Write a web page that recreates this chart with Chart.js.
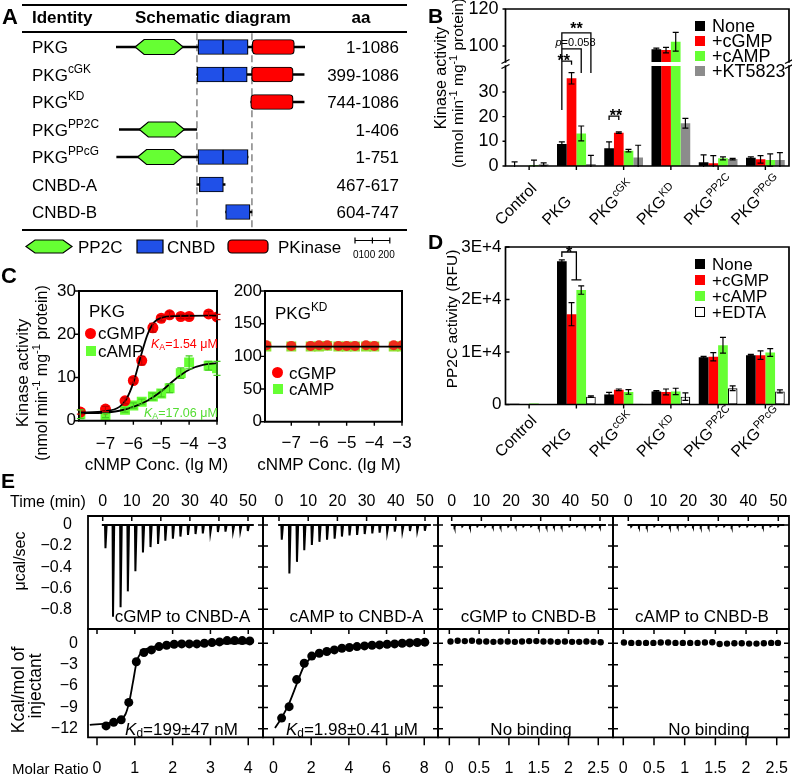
<!DOCTYPE html>
<html>
<head>
<meta charset="utf-8">
<script src="https://cdn.jsdelivr.net/npm/chart.js@4.4.1/dist/chart.umd.min.js"></script>
<style>
  body { margin: 0; background: #fff; }
  #fig { position: relative; width: 792px; height: 774px; overflow: hidden;
         font-family: "Liberation Sans", Arial, Helvetica, sans-serif; color: #000; }
  #fig canvas { position: absolute; }
  .t { position: absolute; white-space: nowrap; line-height: 1; z-index: 2; }
  .t sup { font-size: 0.7em; vertical-align: 0.6em; line-height: 0; }
  .t sub { font-size: 0.7em; vertical-align: -0.25em; line-height: 0; }
  .rule { position: absolute; height: 2px; background: #000; }
  .sw { position: absolute; box-sizing: border-box; z-index: 2; }
</style>
</head>
<body>
<div id="fig"></div>
<script>
const FONT = '"Liberation Sans", Arial, sans-serif';
const RED = '#ff0000', GREEN = '#66ff33', GRAY = '#8c8c8c', BLUE = '#2050e8';

// ---------- panel A: domain extents (amino acids)
const rowBase = ['PKG', 'PKG', 'PKG', 'PKG', 'PKG', 'CNBD-A', 'CNBD-B'];
const rowSup = ['', 'cGK', 'KD', 'PP2C', 'PPcG', '', ''];
const rowAa = ['1-1086', '399-1086', '744-1086', '1-406', '1-751', '467-617', '604-747'];
const backbone = [[0, 1086], [463, 1081], [774, 1081], [19, 464], [4, 759], [464, 627], [630, 781]];
const pp2cDom = [[110, 386], null, null, [134, 393], [124, 383], null, null];
const cnbdA = [[471, 615], [467, 616], null, null, [471, 615], [479, 617], null];
const cnbdB = [[615, 759], [616, 754], null, null, [615, 759], null, [630, 770]];
const kinaseDom = [[783, 1025], [779, 1018], [774, 1018], null, null, null, null];
const dashAa = [465, 781];

// ---------- panel B: kinase activity
const groups = ['Control', 'PKG', 'PKG', 'PKG', 'PKG', 'PKG'];
const groupSup = ['', '', 'cGK', 'KD', 'PP2C', 'PPcG'];
const kinNone = [0, 8.9, 7.2, 98.2, 1.5, 3.3];
const kinCGMP = [0, 35.5, 13.5, 97.8, 1.1, 2.7];
const kinCAMP = [0.4, 13.2, 6.2, 102.3, 3.1, 2.4];
const kinKT = [0.7, 0.8, 3.4, 17.3, 2.8, 2.4];
const kinNoneErr = [1.7, 0.9, 2.6, 0.6, 3.0, 0.4];
const kinCGMPErr = [0, 2.3, 0.3, 1.5, 3.1, 1.5];
const kinCAMPErr = [2.0, 3.0, 0.5, 5.1, 0.6, 2.5];
const kinKTErr = [0.6, 3.5, 5.0, 2.0, 0.3, 3.0];

// ---------- panel C: dose response
const concLg = [-7.9, -7, -6.3, -6, -5.7, -5.3, -5, -4.7, -4.3, -4, -3.3, -3];
const pkgCGMP = [2.0, 2.7, 4.6, 9.3, 13.9, 21.5, 23.7, 24.5, 24.1, 24.1, 24.7, 24.0];
const pkgCAMP = [1.5, 1.2, 2.5, 3.5, 4.4, 5.6, 6.3, 7.5, 11.0, 13.5, 12.7, 12.1];
const pkgCGMPErr = [0.5, 0.6, 0.7, 0.6, 1.0, 1.0, 0.6, 0.7, 0.5, 0.5, 0.6, 0.6];
const pkgCAMPErr = [1.0, 0.5, 0.5, 0.6, 0.6, 0.8, 0.8, 1.0, 1.2, 1.5, 1.0, 1.6];
const fitLgCGMP = [-7.95, -7, -6.5, -6.25, -6, -5.75, -5.5, -5.25, -5, -4.5, -3];
const fitCGMP = [1.9, 2.2, 3.2, 5.0, 8.8, 14.5, 19.8, 22.8, 23.8, 24.2, 24.3];
const fitLgCAMP = [-7.95, -7, -6.5, -6, -5.5, -5, -4.5, -4, -3.5, -3];
const fitCAMP = [1.7, 1.9, 2.3, 3.2, 4.6, 6.8, 9.6, 11.8, 12.9, 13.3];
const kdCGMP = [117, 116, 116, 117, 117, 116, 116, 116, 117, 116, 117, 117];
const kdCAMP = [115, 115, 115, 115, 116, 115, 115, 115, 115, 115, 115, 115];
const kdFitLg = [-7.95, -3];
const kdFit = [115, 115];

// ---------- panel D: PP2C activity
const ppNone = [120, 27300, 1900, 2500, 9000, 9400];
const ppCGMP = [100, 17200, 2800, 2400, 9100, 9400];
const ppCAMP = [200, 21800, 2400, 2500, 11300, 9900];
const ppEDTA = [0, 1500, 150, 1500, 3100, 2500];
const ppNoneErr = [0, 250, 400, 150, 150, 150];
const ppCGMPErr = [0, 2200, 150, 550, 800, 800];
const ppCAMPErr = [0, 800, 450, 600, 1500, 750];
const ppEDTAErr = [0, 150, 0, 700, 450, 300];

// ---------- panel E: ITC
const injTime = [0.8, 3.4, 6.0, 8.5, 11.1, 13.7, 16.3, 18.9, 21.4, 24.0, 26.6, 29.2, 31.8, 34.3, 36.9, 39.5, 42.1, 44.7, 47.2, 49.8];
const heatCGMP_A = [-0.22, -0.87, -0.78, -0.63, -0.44, -0.26, -0.21, -0.18, -0.15, -0.13, -0.11, -0.095, -0.086, -0.08, -0.073, -0.067, -0.063, -0.06, -0.057, -0.057];
const heatCAMP_A = [-0.14, -0.46, -0.35, -0.24, -0.19, -0.16, -0.14, -0.13, -0.11, -0.10, -0.095, -0.086, -0.08, -0.073, -0.067, -0.063, -0.06, -0.057, -0.055, -0.055];
const heatCGMP_B = [-0.016, -0.014, -0.015, -0.013, -0.014, -0.012, -0.013, -0.014, -0.012, -0.013, -0.012, -0.014, -0.013, -0.012, -0.013, -0.012, -0.013, -0.012, -0.014, -0.012];
const heatCAMP_B = [-0.015, -0.013, -0.014, -0.012, -0.013, -0.014, -0.012, -0.013, -0.012, -0.014, -0.013, -0.012, -0.013, -0.014, -0.012, -0.013, -0.012, -0.013, -0.012, -0.013];
const ratioCGMP_A = [0.24, 0.44, 0.64, 0.84, 1.04, 1.24, 1.44, 1.64, 1.84, 2.04, 2.24, 2.44, 2.64, 2.84, 3.04, 3.24, 3.44, 3.64, 3.84, 4.04];
const enthCGMP_A = [-11.6, -11.1, -10.75, -8.3, -2.6, -1.3, -0.93, -0.47, -0.28, -0.14, -0.09, -0.09, -0.09, 0.0, 0.09, 0.19, 0.37, 0.37, 0.37, 0.33];
const fitRatioCGMP_A = [-0.19, 0.3, 0.6, 0.75, 0.85, 0.95, 1.05, 1.15, 1.3, 1.6, 2.0, 3.0, 4.1];
const fitEnthCGMP_A = [-11.45, -11.2, -10.8, -10.0, -8.3, -5.5, -2.6, -1.4, -0.8, -0.4, -0.2, -0.05, 0.0];
const ratioCAMP_A = [0.43, 0.83, 1.23, 1.63, 2.03, 2.43, 2.83, 3.23, 3.63, 4.03, 4.43, 4.83, 5.23, 5.63, 6.03, 6.43, 6.83, 7.23, 7.63, 8.03];
const enthCAMP_A = [-10.5, -8.9, -5.1, -2.8, -1.8, -1.4, -1.15, -0.93, -0.7, -0.6, -0.47, -0.37, -0.28, -0.23, -0.14, -0.09, 0.0, 0.05, 0.1, 0.15];
const fitRatioCAMP_A = [0.08, 0.45, 0.85, 1.25, 1.6, 2.0, 2.5, 3.0, 4.0, 5.0, 6.0, 7.0, 8.1];
const fitEnthCAMP_A = [-11.9, -10.4, -8.3, -5.6, -3.3, -2.0, -1.3, -0.95, -0.55, -0.35, -0.2, -0.1, -0.03];
const ratioCGMP_B = [0.02, 0.14, 0.26, 0.38, 0.50, 0.62, 0.74, 0.86, 0.98, 1.10, 1.22, 1.34, 1.46, 1.58, 1.70, 1.82, 1.94, 2.06, 2.18, 2.30, 2.42, 2.54];
const enthCGMP_B = [0.25, 0.35, 0.3, 0.35, 0.25, 0.25, 0.2, 0.25, 0.25, 0.2, 0.25, 0.3, 0.3, 0.25, 0.25, 0.2, 0.25, 0.2, 0.2, 0.25, 0.2, 0.15];
const ratioCAMP_B = [0.01, 0.13, 0.25, 0.37, 0.49, 0.61, 0.73, 0.85, 0.97, 1.09, 1.21, 1.33, 1.45, 1.57, 1.69, 1.81, 1.93, 2.05, 2.17, 2.29, 2.41, 2.52];
const enthCAMP_B = [0.1, 0.05, 0.05, 0.05, 0.05, 0.1, 0.1, 0.05, 0.05, 0.05, 0.05, 0.1, 0.15, -0.1, -0.05, 0.0, 0.0, -0.05, -0.05, 0.0, 0.05, 0.05];

Chart.defaults.font.family = FONT;
Chart.defaults.color = '#000';
Chart.defaults.animation = false;
Chart.defaults.responsive = false;
Chart.defaults.devicePixelRatio = 1;
Chart.defaults.plugins.legend.display = false;
Chart.defaults.plugins.tooltip.enabled = false;

const fig = document.getElementById('fig');

function canvasAt(x, y, w, h) {
  const c = document.createElement('canvas');
  c.width = w; c.height = h;
  c.style.left = x + 'px'; c.style.top = y + 'px';
  fig.appendChild(c);
  return c;
}
function txt(html, x, y, o) {
  o = o || {};
  const d = document.createElement('div');
  d.className = 't';
  d.innerHTML = html;
  d.style.left = x + 'px'; d.style.top = y + 'px';
  d.style.fontSize = (o.size || 16) + 'px';
  if (o.bold) d.style.fontWeight = 'bold';
  if (o.color) d.style.color = o.color;
  const al = o.align || 'l';
  d.style.transform = o.rot ? 'translate(-50%,-50%) rotate(-90deg)' :
    al === 'c' ? 'translate(-50%,-50%)' : al === 'r' ? 'translate(-100%,-50%)' : 'translateY(-50%)';
  fig.appendChild(d);
}
function rule(x, y, w) {
  const d = document.createElement('div');
  d.className = 'rule';
  d.style.left = x + 'px'; d.style.top = y + 'px'; d.style.width = w + 'px';
  fig.appendChild(d);
}
function swatch(cx, cy, size, color, round, border) {
  const d = document.createElement('div');
  d.className = 'sw';
  d.style.left = (cx - size / 2) + 'px'; d.style.top = (cy - size / 2) + 'px';
  d.style.width = size + 'px'; d.style.height = size + 'px';
  d.style.background = color;
  if (round) d.style.borderRadius = '50%';
  if (border) d.style.border = '1.2px solid #000';
  fig.appendChild(d);
}
const xy = (xs, ys) => xs.map((x, i) => ({ x: x, y: ys[i] }));
const neg = v => (v < 0 ? '\u2212' : '') + Math.abs(v);

function fixSize(n) {
  return s => {
    if (s.isHorizontal()) s.height = n; else s.width = n;
    s.paddingLeft = s.paddingRight = s.paddingTop = s.paddingBottom = 0;
  };
}
function tickAt(vals) { return s => { s.ticks = vals.map(v => ({ value: v })); }; }
function axis(o) {
  const a = {
    type: o.type || 'linear', position: o.pos, display: o.show !== false, min: o.min, max: o.max,
    grid: { display: false, drawTicks: false }, border: { display: false },
    ticks: { font: { size: o.font || 16 }, padding: o.pad || 4, autoSkip: false, maxRotation: 0, callback: o.fmt || neg }
  };
  if (o.ticks) a.afterBuildTicks = tickAt(o.ticks);
  if (o.show !== false && o.size !== undefined) a.afterFit = fixSize(o.size);
  return a;
}
function barX(chart, g, s) {
  const i = Math.floor(s), f = s - i;
  const x0 = chart.getDatasetMeta(i).data[g].x;
  if (!f) return x0;
  return x0 + (chart.getDatasetMeta(i + 1).data[g].x - x0) * f;
}
function hexagon(ctx, x0, x1, yc, h, tip) {
  ctx.beginPath();
  ctx.moveTo(x0, yc); ctx.lineTo(x0 + tip, yc - h / 2); ctx.lineTo(x1 - tip, yc - h / 2);
  ctx.lineTo(x1, yc); ctx.lineTo(x1 - tip, yc + h / 2); ctx.lineTo(x0 + tip, yc + h / 2);
  ctx.closePath();
  ctx.fillStyle = GREEN; ctx.fill();
  ctx.strokeStyle = '#000'; ctx.lineWidth = 1.2; ctx.stroke();
}
function rbox(ctx, x, y, w, h, color, r) {
  ctx.beginPath(); ctx.roundRect(x, y, w, h, r);
  ctx.fillStyle = color; ctx.fill();
  ctx.strokeStyle = '#000'; ctx.lineWidth = 1.2; ctx.stroke();
}

// ---------- plugins
const frame = {
  id: 'frame',
  afterDatasetsDraw(chart, args, o) {
    if (!o.box && !o.ticks) return;
    const ctx = chart.ctx, a = chart.chartArea, b = o.box || '';
    ctx.save();
    ctx.strokeStyle = '#000'; ctx.lineWidth = o.lw || 1.5; ctx.lineCap = 'square';
    ctx.beginPath();
    if (b.includes('t')) { ctx.moveTo(a.left, a.top); ctx.lineTo(a.right, a.top); }
    if (b.includes('b')) { ctx.moveTo(a.left, a.bottom); ctx.lineTo(a.right, a.bottom); }
    if (b.includes('l')) { ctx.moveTo(a.left, a.top); ctx.lineTo(a.left, a.bottom); }
    if (b.includes('r')) { ctx.moveTo(a.right, a.top); ctx.lineTo(a.right, a.bottom); }
    ctx.stroke();
    ctx.lineCap = 'butt'; ctx.lineWidth = o.tw || 1.4;
    ctx.beginPath();
    (o.ticks || []).forEach(t => {
      const sc = chart.scales[t.axis], inn = t.inn || 0, out = t.out || 0;
      t.vals.forEach(v => {
        const p = sc.getPixelForValue(v);
        if (t.side === 'left') { ctx.moveTo(a.left - out, p); ctx.lineTo(a.left + inn, p); }
        if (t.side === 'right') { ctx.moveTo(a.right - inn, p); ctx.lineTo(a.right + out, p); }
        if (t.side === 'top') { ctx.moveTo(p, a.top - out); ctx.lineTo(p, a.top + inn); }
        if (t.side === 'bottom') { ctx.moveTo(p, a.bottom - inn); ctx.lineTo(p, a.bottom + out); }
      });
    });
    ctx.stroke();
    ctx.restore();
  }
};
const errbars = {
  id: 'errbars',
  afterDatasetsDraw(chart, args, o) {
    if (!o.sets) return;
    const ctx = chart.ctx, a = chart.chartArea, ys = chart.scales.y, cap = o.cap || 3;
    ctx.save();
    ctx.beginPath(); ctx.rect(a.left - 10, a.top - 1, a.right - a.left + 20, a.bottom - a.top + 2); ctx.clip();
    ctx.lineWidth = o.lw || 1.2;
    o.sets.forEach(s => {
      const meta = chart.getDatasetMeta(s.ds), data = chart.data.datasets[s.ds].data;
      ctx.strokeStyle = s.color || '#000';
      ctx.beginPath();
      meta.data.forEach((el, j) => {
        const e = s.err[j];
        if (!e) return;
        const v = typeof data[j] === 'object' ? data[j].y : data[j];
        const hi = ys.getPixelForValue(v + e), lo = ys.getPixelForValue(v - e);
        ctx.moveTo(el.x, lo); ctx.lineTo(el.x, hi);
        ctx.moveTo(el.x - cap, hi); ctx.lineTo(el.x + cap, hi);
        ctx.moveTo(el.x - cap, lo); ctx.lineTo(el.x + cap, lo);
      });
      ctx.stroke();
    });
    ctx.restore();
  }
};
const rotLabels = {
  id: 'rotLabels',
  afterDraw(chart, args, o) {
    if (!o.base) return;
    const ctx = chart.ctx, xs = chart.scales.x, y0 = chart.chartArea.bottom + o.dy;
    ctx.save();
    ctx.fillStyle = '#000'; ctx.textAlign = 'left'; ctx.textBaseline = 'alphabetic';
    o.base.forEach((b, i) => {
      ctx.save();
      ctx.translate(xs.getPixelForValue(i) + o.dx, y0);
      ctx.rotate(-Math.PI / 4);
      ctx.font = o.size + 'px ' + FONT;
      ctx.fillText(b, 0, 0);
      if (o.sup[i]) {
        const w = ctx.measureText(b).width;
        ctx.font = o.supSize + 'px ' + FONT;
        ctx.fillText(o.sup[i], w + 0.5, -o.raise);
      }
      ctx.restore();
    });
    ctx.restore();
  }
};
const brackets = {
  id: 'brackets',
  afterDraw(chart, args, o) {
    if (!o.list) return;
    const ctx = chart.ctx, ys = chart.scales.y;
    ctx.save();
    ctx.strokeStyle = '#000'; ctx.fillStyle = '#000'; ctx.lineWidth = 1.3;
    o.list.forEach(b => {
      const xa = barX(chart, b.g, b.a), xb = barX(chart, b.g, b.b);
      const yt = ys.getPixelForValue(b.top), ya = ys.getPixelForValue(b.la), yb = ys.getPixelForValue(b.lb);
      ctx.beginPath();
      ctx.moveTo(xa, ya); ctx.lineTo(xa, yt); ctx.lineTo(xb, yt); ctx.lineTo(xb, yb);
      if (b.cap) { ctx.moveTo(xb - 5, yb); ctx.lineTo(xb + 5, yb); }
      ctx.stroke();
      const mx = (xa + xb) / 2 + (b.tx || 0);
      ctx.textBaseline = 'alphabetic';
      if (b.p) {
        ctx.font = 'italic 11px ' + FONT; const w1 = ctx.measureText('p').width;
        ctx.font = '11px ' + FONT; const w2 = ctx.measureText(b.text).width;
        const x0 = mx - (w1 + w2) / 2;
        ctx.textAlign = 'left';
        ctx.font = 'italic 11px ' + FONT; ctx.fillText('p', x0, yt + b.ty);
        ctx.font = '11px ' + FONT; ctx.fillText(b.text, x0 + w1, yt + b.ty);
      } else {
        ctx.textAlign = 'center';
        ctx.font = 'bold 16px ' + FONT; ctx.fillText(b.text, mx, yt + b.ty);
      }
    });
    ctx.restore();
  }
};
const breaks = {
  id: 'breaks',
  afterDraw(chart, args, o) {
    if (!o.on) return;
    const ctx = chart.ctx, a = chart.chartArea, y = a.top - 2;
    ctx.save();
    ctx.strokeStyle = '#000'; ctx.lineWidth = 1.3;
    [a.left, a.right].forEach(x => {
      ctx.beginPath();
      ctx.moveTo(x - 4, y - 0.5); ctx.lineTo(x + 4, y - 4.5);
      ctx.moveTo(x - 4, y + 4.5); ctx.lineTo(x + 4, y + 0.5);
      ctx.stroke();
    });
    ctx.restore();
  }
};
const schematic = {
  id: 'schematic',
  beforeDatasetsDraw(chart, args, o) {
    if (!o.on) return;
    const ctx = chart.ctx, xs = chart.scales.x, a = chart.chartArea;
    ctx.save();
    ctx.strokeStyle = '#8c8c8c'; ctx.lineWidth = 1.6; ctx.setLineDash([7, 4]);
    dashAa.forEach(v => {
      const x = xs.getPixelForValue(v);
      ctx.beginPath(); ctx.moveTo(x, a.top); ctx.lineTo(x, a.bottom + 3.5); ctx.stroke();
    });
    ctx.restore();
  },
  afterDatasetsDraw(chart, args, o) {
    if (!o.on) return;
    const ctx = chart.ctx, xs = chart.scales.x, ys = chart.scales.y;
    ctx.save();
    pp2cDom.forEach((d, i) => {
      if (d) hexagon(ctx, xs.getPixelForValue(d[0]), xs.getPixelForValue(d[1]), ys.getPixelForValue(i), 15, 9);
    });
    // legend symbols
    hexagon(ctx, 26, 72, 246.5, 13, 9);
    rbox(ctx, 137, 240, 26, 13, BLUE, 0);
    rbox(ctx, 228, 240, 40, 13, RED, 4);
    // 200 aa scale bar
    const x0 = 355, unit = xs.getPixelForValue(100) - xs.getPixelForValue(0), y = 240.5;
    ctx.strokeStyle = '#000'; ctx.lineWidth = 1.2;
    ctx.beginPath();
    ctx.moveTo(x0, y); ctx.lineTo(x0 + 2 * unit, y);
    [0, 1, 2].forEach(k => { ctx.moveTo(x0 + k * unit, y - 3); ctx.lineTo(x0 + k * unit, y + 3); });
    ctx.stroke();
    ctx.restore();
  }
};
Chart.register(frame, errbars, rotLabels, brackets, breaks, schematic);

// ================= PANEL A
const aChart = new Chart(canvasAt(0, 0, 400, 260), {
  type: 'bar',
  data: {
    labels: rowBase.map((b, i) => b + rowSup[i]),
    datasets: [
      { data: cnbdA, backgroundColor: BLUE, borderColor: '#000', borderWidth: 1.2, borderSkipped: false, barThickness: 15, grouped: false },
      { data: cnbdB, backgroundColor: BLUE, borderColor: '#000', borderWidth: 1.2, borderSkipped: false, barThickness: 15, grouped: false },
      { data: kinaseDom, backgroundColor: RED, borderColor: '#000', borderWidth: 1.2, borderSkipped: false, borderRadius: 4, barThickness: 15, grouped: false },
      { data: backbone, backgroundColor: '#000', borderWidth: 0, barThickness: 2, grouped: false }
    ]
  },
  options: {
    indexAxis: 'y',
    layout: { padding: { left: 116, right: 95, top: 33.25, bottom: 34.25 }, autoPadding: false },
    scales: { x: { type: 'linear', min: 0, max: 1086, display: false }, y: { display: false } },
    plugins: { schematic: { on: true } }
  }
});
rule(22, 4, 385); rule(22, 31, 385); rule(22, 229, 385);
txt('A', 2, 17, { size: 22, bold: true });
txt('Identity', 32, 17, { size: 17, bold: true });
txt('Schematic diagram', 135, 17, { size: 17, bold: true });
txt('aa', 361, 17, { size: 17, bold: true, align: 'c' });
rowBase.forEach((b, i) => {
  const y = aChart.scales.y.getPixelForValue(i);
  txt(b + (rowSup[i] ? '<sup>' + rowSup[i] + '</sup>' : ''), 32, y, { size: 17 });
  txt(rowAa[i], 399, y, { size: 17, align: 'r' });
});
txt('PP2C', 78, 247, { size: 17 });
txt('CNBD', 167, 247, { size: 17 });
txt('PKinase', 278, 247, { size: 17 });
txt('0100 200', 353, 255, { size: 10 });

// ================= PANEL B (broken axis: upper and lower charts)
function kinSets() {
  return [[kinNone, '#000'], [kinCGMP, RED], [kinCAMP, GREEN], [kinKT, GRAY]].map(s => ({
    data: s[0], backgroundColor: s[1], borderWidth: 0, categoryPercentage: 0.82, barPercentage: 1, clip: 0
  }));
}
const kinErr = [{ ds: 0, err: kinNoneErr }, { ds: 1, err: kinCGMPErr }, { ds: 2, err: kinCAMPErr }, { ds: 3, err: kinKTErr }];
new Chart(canvasAt(390, 0, 402, 260), {
  type: 'bar',
  data: { labels: groups, datasets: kinSets() },
  options: {
    layout: { padding: { top: 9, right: 3, bottom: 198, left: 0 }, autoPadding: false },
    scales: {
      x: { display: false },
      y: axis({ min: 91.35, max: 120, size: 115.5, ticks: [100, 120], font: 18, pad: 7 })
    },
    plugins: {
      frame: { box: 'tlr', lw: 1.7, ticks: [{ axis: 'y', side: 'left', vals: [100, 120], out: 3 }] },
      errbars: { sets: kinErr, cap: 3 }
    }
  }
});
new Chart(canvasAt(390, 0, 402, 260), {
  type: 'bar',
  data: { labels: groups.map((g, i) => g + groupSup[i]), datasets: kinSets() },
  options: {
    layout: { padding: { top: 66, right: 3, bottom: 94, left: 0 }, autoPadding: false },
    scales: {
      x: { display: false },
      y: axis({ min: 0, max: 40.5, size: 115.5, ticks: [0, 10, 20, 30], font: 18, pad: 7 })
    },
    plugins: {
      frame: { box: 'lrb', lw: 1.7, ticks: [
        { axis: 'y', side: 'left', vals: [0, 10, 20, 30], out: 3 },
        { axis: 'x', side: 'bottom', vals: [0, 1, 2, 3, 4, 5], out: 4 }] },
      errbars: { sets: kinErr, cap: 3 },
      rotLabels: { base: groups, sup: groupSup, dx: -28, dy: 60, size: 16, supSize: 11, raise: 6 },
      breaks: { on: true },
      brackets: { list: [
        { g: 1, a: 0, b: 3, top: 53.9, la: 22.7, lb: 37.7, text: '**', ty: 1.5 },
        { g: 1, a: 0, b: 2, top: 47.4, la: 47.4, lb: 37.7, text: '=0.058', p: true, ty: -3, tx: 4 },
        { g: 1, a: 0, b: 1, top: 42.5, la: 42.5, lb: 41, text: '**', ty: 4.5, tx: -3 },
        { g: 2, a: 0, b: 1, top: 20.2, la: 18.6, lb: 18.6, text: '**', ty: 4.5, tx: 2 }] }
    }
  }
});
txt('B', 428, 15, { size: 21, bold: true });
txt('Kinase activity', 441, 78, { size: 16, rot: true });
txt('(nmol min<sup>-1</sup> mg<sup>-1</sup> protein)', 458, 83, { size: 15.5, rot: true });
['None', '+cGMP', '+cAMP', '+KT5823'].forEach((s, i) => {
  const y = 25.5 + i * 15;
  swatch(700, y, 10, ['#000', RED, GREEN, GRAY][i]);
  txt(s, 712, y, { size: 18 });
});

// ================= PANEL C
function cOpts(pad, ySize, xSize, yMax, yTicks, xPad) {
  return {
    layout: { padding: pad, autoPadding: false },
    scales: {
      x: axis({ min: -7.95, max: -3, size: xSize, ticks: [-7, -6, -5, -4, -3], font: 17, pad: xPad }),
      y: axis({ min: 0, max: yMax, size: ySize, ticks: yTicks, font: 17, pad: 3 })
    }
  };
}
const cL = cOpts({ top: 21, right: 18, left: 0, bottom: 0 }, 79, 49.3, 30, [0, 10, 20, 30], 13);
cL.plugins = {
  frame: { box: 'tlrb', lw: 2, ticks: [{ axis: 'y', side: 'left', vals: [0, 10, 20, 30], out: 4 }, { axis: 'x', side: 'bottom', vals: [-7, -6, -5, -4, -3], out: 4 }] },
  errbars: { sets: [{ ds: 2, err: pkgCGMPErr, color: '#c00000' }, { ds: 3, err: pkgCAMPErr, color: '#44cc22' }], cap: 3.5 }
};
new Chart(canvasAt(0, 270, 235, 200), {
  type: 'line',
  data: { datasets: [
    { data: xy(fitLgCGMP, fitCGMP), borderColor: '#000', borderWidth: 1.8, pointRadius: 0, cubicInterpolationMode: 'monotone' },
    { data: xy(fitLgCAMP, fitCAMP), borderColor: '#000', borderWidth: 1.8, pointRadius: 0, cubicInterpolationMode: 'monotone' },
    { data: xy(concLg, pkgCGMP), showLine: false, pointStyle: 'circle', pointRadius: 5.5, pointBackgroundColor: RED, pointBorderWidth: 0 },
    { data: xy(concLg, pkgCAMP), showLine: false, pointStyle: 'rect', pointRadius: 7, pointBackgroundColor: GREEN, pointBorderWidth: 0 }
  ] },
  options: cL
});
const cR = cOpts({ top: 21, right: 13, left: 0, bottom: 0 }, 40, 48.3, 200, [0, 50, 100, 150, 200], 11);
cR.plugins = {
  frame: { box: 'tlrb', lw: 2, ticks: [{ axis: 'y', side: 'left', vals: [0, 50, 100, 150, 200], out: 4 }, { axis: 'x', side: 'bottom', vals: [-7, -6, -5, -4, -3], out: 4 }] }
};
new Chart(canvasAt(225, 270, 190, 200), {
  type: 'line',
  data: { datasets: [
    { data: xy(kdFitLg, kdFit), borderColor: '#000', borderWidth: 1.8, pointRadius: 0 },
    { data: xy(concLg, kdCGMP), showLine: false, pointStyle: 'circle', pointRadius: 5, pointBackgroundColor: '#ee2a1a', pointBorderWidth: 0 },
    { data: xy(concLg, kdCAMP), showLine: false, pointStyle: 'rect', pointRadius: 7, pointBackgroundColor: '#8fe030', pointBorderWidth: 0 }
  ] },
  options: cR
});
txt('C', 1, 276, { size: 22, bold: true });
txt('Kinase activity', 22, 373, { size: 17, rot: true });
txt('(nmol min<sup>-1</sup> mg<sup>-1</sup> protein)', 42, 373, { size: 16, rot: true });
txt('PKG', 89, 311, { size: 17 });
swatch(90.5, 333, 11, RED, true); txt('cGMP', 98, 333, { size: 17 });
swatch(90.5, 350.5, 10, GREEN); txt('cAMP', 98, 350.5, { size: 17 });
txt('<i>K</i><sub>A</sub>=1.54 \u03bcM', 151, 344, { size: 12.5, color: RED });
txt('<i>K</i><sub>A</sub>=17.06 \u03bcM', 144, 413, { size: 12.5, color: '#55dd33' });
txt('PKG<sup>KD</sup>', 275, 313, { size: 17 });
swatch(277, 372.5, 11, RED, true); txt('cGMP', 289, 372.5, { size: 17 });
swatch(277.5, 389, 10, GREEN); txt('cAMP', 289, 389, { size: 17 });
txt('cNMP Conc. (lg M)', 156.5, 463.5, { size: 17, align: 'c' });
txt('cNMP Conc. (lg M)', 329, 463.5, { size: 17, align: 'c' });

// ================= PANEL D
new Chart(canvasAt(390, 235, 402, 235), {
  type: 'bar',
  data: { labels: groups.map((g, i) => g + groupSup[i]), datasets: [
    { data: ppNone, backgroundColor: '#000', borderWidth: 0, categoryPercentage: 0.82, barPercentage: 1, clip: 0 },
    { data: ppCGMP, backgroundColor: RED, borderWidth: 0, categoryPercentage: 0.82, barPercentage: 1, clip: 0 },
    { data: ppCAMP, backgroundColor: GREEN, borderWidth: 0, categoryPercentage: 0.82, barPercentage: 1, clip: 0 },
    { data: ppEDTA, backgroundColor: '#fff', borderColor: '#000', borderWidth: 1.2, borderSkipped: false, categoryPercentage: 0.82, barPercentage: 1, clip: 0 }
  ] },
  options: {
    layout: { padding: { top: 12, right: 3, bottom: 65.5, left: 0 }, autoPadding: false },
    scales: {
      x: { display: false },
      y: axis({ min: 0, max: 30000, size: 115.5, ticks: [0, 10000, 20000, 30000], font: 17, pad: 4,
                fmt: v => (v ? (v / 10000) + 'E+4' : '0') })
    },
    plugins: {
      frame: { box: 'tlrb', lw: 1.7, ticks: [
        { axis: 'y', side: 'left', vals: [0, 10000, 20000, 30000], inn: 4 },
        { axis: 'x', side: 'bottom', vals: [0, 1, 2, 3, 4, 5], out: 4 }] },
      errbars: { sets: [{ ds: 0, err: ppNoneErr }, { ds: 1, err: ppCGMPErr }, { ds: 2, err: ppCAMPErr }, { ds: 3, err: ppEDTAErr }], cap: 3 },
      rotLabels: { base: groups, sup: groupSup, dx: -28, dy: 53.5, size: 16, supSize: 11, raise: 6 },
      brackets: { list: [{ g: 1, a: 0, b: 1.5, top: 29050, la: 28100, lb: 23730, cap: true, text: '*', ty: 6 }] }
    }
  }
});
txt('D', 428, 241, { size: 21, bold: true });
txt('PP2C activity (RFU)', 451.5, 318.5, { size: 15.5, rot: true });
['None', '+cGMP', '+cAMP', '+EDTA'].forEach((s, i) => {
  const y = [264, 279.5, 295.5, 312][i];
  swatch(700, y, 10, ['#000', RED, GREEN, '#fff'][i], false, i === 3);
  txt(s, 712, y, { size: 17 });
});

// ================= PANEL E
const eColX = [88, 263, 438, 613, 789];
const eTopRange = [[-5.06, 55.16], [-5.48, 54.45], [-4.62, 54.38], [-5.1, 53.57]];
const eBotRange = [[-0.238, 4.39], [-0.557, 8.73], [-0.19, 2.747], [-0.168, 2.70]];
const timeTicks = [0, 10, 20, 30, 40, 50];
const ratioTicks = [[0, 1, 2, 3, 4], [0, 2, 4, 6, 8], [0, 0.5, 1, 1.5, 2, 2.5], [0, 0.5, 1, 1.5, 2, 2.5]];
const ratioFmt = v => (v === 0 ? '0' : (Number.isInteger(v) && v > 2.5 ? String(v) : (v <= 2.5 && !Number.isInteger(v) ? v.toFixed(1) : String(v))));

function thermo(times, depth) {
  const pts = [{ x: -0.3, y: 0 }];
  times.forEach((t, i) => { pts.push({ x: t, y: 0 }, { x: t + 0.15, y: depth[i] }, { x: t + 0.55, y: 0 }); });
  pts.push({ x: 52, y: 0 });
  return pts;
}
function eChart(c, top, datasets) {
  const left = c === 0 ? 0 : eColX[c] - 12;
  const w = eColX[c + 1] + 12 - left;
  const h = top ? 150 : 154, y0 = top ? 485 : 620;
  const areaT = top ? 516 : 629, areaB = top ? 629 : 737.3;
  const yr = top ? [-0.987, 0.085] : [-13.2, 2.0];
  const yl = top ? [0, -0.2, -0.4, -0.6, -0.8] : [0, -3, -6, -9, -12];
  const ym = (!top && c === 3) ? [0, -2, -4, -6, -8, -10, -12] : yl;
  const xr = top ? eTopRange[c] : eBotRange[c];
  const xt = top ? timeTicks : ratioTicks[c];
  const marks = [
    { axis: 'x', side: 'top', vals: xt, inn: 5 },
    { axis: 'y', side: 'right', vals: ym, inn: 5, out: c < 3 ? 5 : 0 }
  ];
  if (!top) marks.push({ axis: 'x', side: 'bottom', vals: xt, out: 8 });
  return new Chart(canvasAt(left, y0, w, h), {
    type: 'line',
    data: { datasets: datasets },
    options: {
      layout: { autoPadding: false, padding: {
        left: c === 0 ? 0 : eColX[c] - left,
        right: w - (eColX[c + 1] - left),
        top: top ? 0 : areaT - y0,
        bottom: top ? y0 + h - areaB : 0 } },
      scales: {
        x: axis({ pos: top ? 'top' : 'bottom', min: xr[0], max: xr[1], size: top ? areaT - y0 : y0 + h - areaB,
                  ticks: xt, font: 16, pad: top ? 4.4 : 21.4, fmt: top ? String : ratioFmt }),
        y: axis({ show: c === 0, min: yr[0], max: yr[1], size: eColX[0], ticks: yl, font: 16, pad: top ? 16 : 10 })
      },
      plugins: { frame: { box: 'tlrb', lw: 1.8, tw: 1.5, ticks: marks } }
    }
  });
}
const spike = d => ({ data: d, borderColor: '#000', borderWidth: 2, pointRadius: 0, tension: 0 });
const dots = (xs, ys, r) => ({ data: xy(xs, ys), showLine: false, pointRadius: r, pointBackgroundColor: '#000', pointBorderWidth: 0 });
const fitLine = (xs, ys) => ({ data: xy(xs, ys), borderColor: '#000', borderWidth: 1.8, pointRadius: 0, cubicInterpolationMode: 'monotone' });

eChart(0, true, [spike(thermo(injTime, heatCGMP_A))]);
eChart(1, true, [spike(thermo(injTime, heatCAMP_A))]);
eChart(2, true, [spike(thermo(injTime, heatCGMP_B))]);
eChart(3, true, [spike(thermo(injTime, heatCAMP_B))]);
eChart(0, false, [fitLine(fitRatioCGMP_A, fitEnthCGMP_A), dots(ratioCGMP_A, enthCGMP_A, 4.5)]);
eChart(1, false, [fitLine(fitRatioCAMP_A, fitEnthCAMP_A), dots(ratioCAMP_A, enthCAMP_A, 4.5)]);
eChart(2, false, [dots(ratioCGMP_B, enthCGMP_B, 3.2)]);
eChart(3, false, [dots(ratioCAMP_B, enthCAMP_B, 3.2)]);

txt('E', 1, 480, { size: 21, bold: true });
txt('Time (min)', 10, 502, { size: 16 });
txt('\u03bccal/sec', 20, 561, { size: 16, rot: true });
['cGMP to CNBD-A', 'cAMP to CNBD-A', 'cGMP to CNBD-B', 'cAMP to CNBD-B'].forEach((s, i) => {
  txt(s, [182.5, 356.5, 528.5, 702][i], 615.5, { size: 17, align: 'c' });
});
txt('Kcal/mol of', 18.5, 690, { size: 17.5, rot: true });
txt('injectant', 36, 686, { size: 17.5, rot: true });
txt('Molar Ratio', 12, 768, { size: 15 });
txt('<i>K</i><sub>d</sub>=199\u00b147 nM', 181.5, 729, { size: 17, align: 'c' });
txt('<i>K</i><sub>d</sub>=1.98\u00b10.41 \u03bcM', 352, 729, { size: 17, align: 'c' });
txt('No binding', 531, 729, { size: 17, align: 'c' });
txt('No binding', 709, 729, { size: 17, align: 'c' });
</script>
</body>
</html>
